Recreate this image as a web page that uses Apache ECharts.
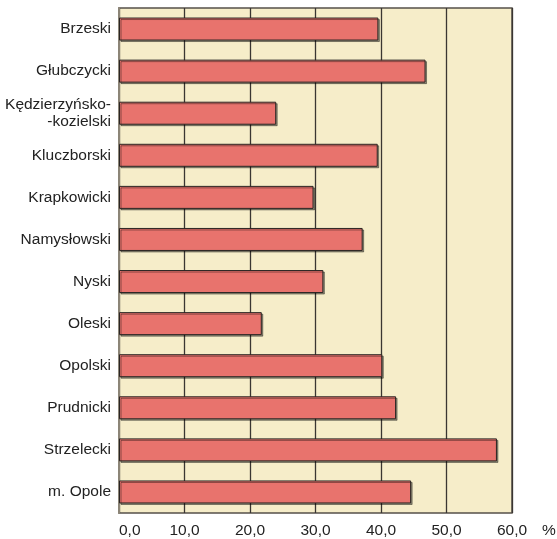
<!DOCTYPE html>
<html>
<head>
<meta charset="utf-8">
<script src="https://cdn.jsdelivr.net/npm/echarts@6/dist/echarts.min.js"></script>
<style>html,body{margin:0;padding:0;background:#fff;}#c{width:557px;height:539px;}</style>
</head>
<body>
<div id="c"></div>
<script>
var categories = ['Brzeski','Głubczycki','Kędzierzyńsko-\n-kozielski','Kluczborski','Krapkowicki','Namysłowski','Nyski','Oleski','Opolski','Prudnicki','Strzelecki','m. Opole'];
var values = [39.6, 46.8, 24.0, 39.5, 29.7, 37.2, 31.2, 21.8, 40.2, 42.3, 57.7, 44.6];
var unitLabel = '%';

var chart = echarts.init(document.getElementById('c'));
chart.setOption({
  animation: false,
  textStyle: {fontFamily: 'Liberation Sans, Arial, sans-serif'},
  grid: {left: 119, right: 45, top: 8, bottom: 26, show: true, backgroundColor: '#f6edc9', borderColor: '#55504a', borderWidth: 1.5, containLabel: false},
  xAxis: {
    type: 'value', min: 0, max: 60, interval: 10,
    axisLine: {show: false}, axisTick: {show: false},
    splitLine: {show: true, lineStyle: {color: '#3a3632', width: 1.3}},
    axisLabel: {color: '#222', fontSize: 15.5, margin: 10, alignMinLabel: 'left', formatter: function(v){return v.toFixed(1).replace('.', ',');}}
  },
  yAxis: {
    type: 'category', data: categories, inverse: true,
    axisTick: {show: false},
    axisLine: {show: true, lineStyle: {color: '#8c8577', width: 2}},
    axisLabel: {
      color: '#222', fontSize: 15.5, margin: 8, align: 'right',
      formatter: function(v){ return v.indexOf('\n') >= 0 ? '{m|' + v.split('\n').join('}\n{m|') + '}' : v; },
      rich: {m: {fontSize: 15.5, lineHeight: 17, color: '#222', padding: [0, 0, 0, 0]}}
    }
  },
  graphic: [{type: 'text', left: 542, top: 523, style: {text: unitLabel, fontSize: 15.5, fill: '#222', fontFamily: 'Liberation Sans, Arial, sans-serif'}}],
  series: [{
    type: 'bar', data: values, barWidth: 23,
    itemStyle: {color: '#e8736d', borderColor: '#2a2523', borderWidth: 1, shadowColor: 'rgba(0,0,0,0.4)', shadowOffsetX: 1.5, shadowOffsetY: 1.5, shadowBlur: 0}
  }]
});
</script>
</body>
</html>
